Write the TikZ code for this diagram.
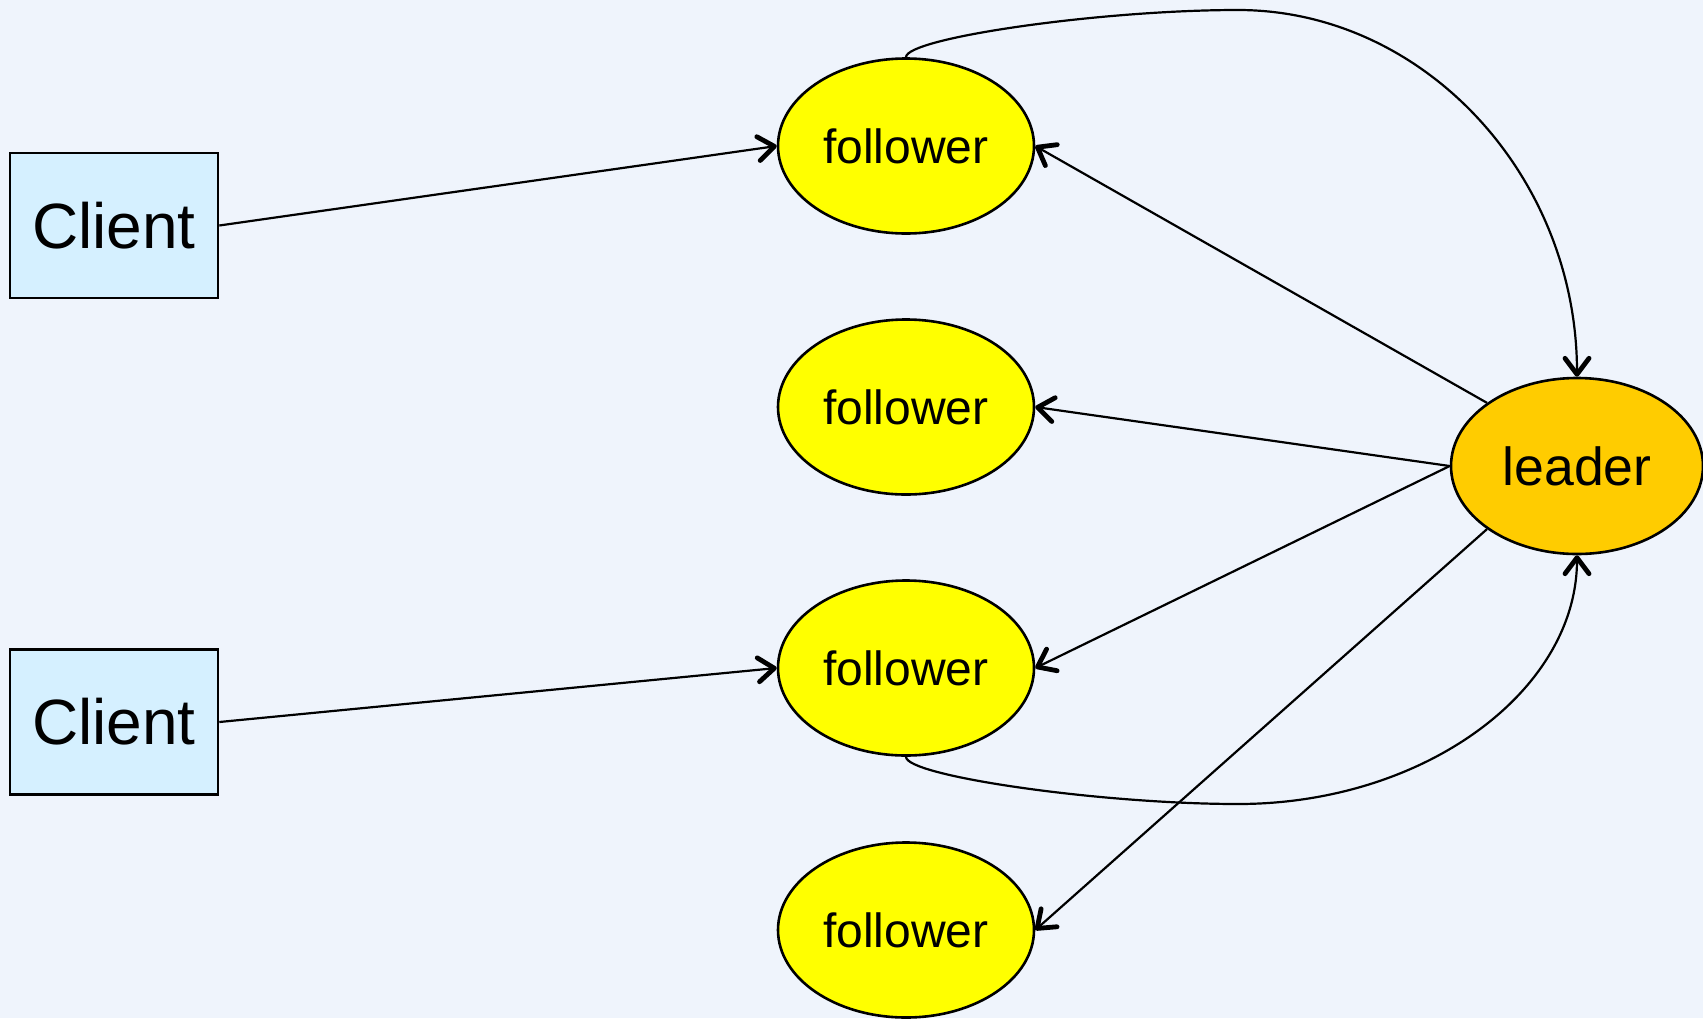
\documentclass[tikz,border=0pt]{standalone}
\usepackage{fontspec}
\setmainfont{Liberation Sans}
\usepackage{xcolor}
\usepackage{tikz}
\usetikzlibrary{positioning,arrows.meta,shapes.geometric}

\definecolor{bgblue}{HTML}{EFF4FC}
\definecolor{clientblue}{HTML}{D5F0FF}
\definecolor{followeryellow}{HTML}{FFFF00}
\definecolor{leaderorange}{HTML}{FFCC00}

\begin{document}
\begin{tikzpicture}[x=0.5pt, y=-0.5pt,
        client/.style={rectangle, draw=black, line width=1.3pt, fill=clientblue, minimum width=104pt, minimum height=72.5pt, inner sep=0pt, font=\fontsize{32}{36}\selectfont},
        follower/.style={ellipse, draw=black, line width=1.3pt, fill=followeryellow, minimum width=128pt, minimum height=87.5pt, inner sep=0pt, font=\fontsize{24}{28}\selectfont},
        leader/.style={ellipse, draw=black, line width=1.3pt, fill=leaderorange, minimum width=126pt, minimum height=88pt, inner sep=0pt, font=\fontsize{26.8}{30}\selectfont},
        link/.style={-{Straight Barb[length=8pt, width=12pt, line width=2.4pt, round]}, line width=1.1pt}
    ]
    % Background
    \useasboundingbox (0,0) rectangle (1703,1018);
    \fill[bgblue] (0,0) rectangle (1703,1018);

    % Clients
    \node[client] (c1) at (114,225.5) {Client};
    \node[client] (c2) at (114,722) {Client};

    % Followers
    \foreach \i/\y in {1/146, 2/407, 3/668, 4/930} {
        \node[follower] (f\i) at (906,\y) {follower};
    }

    % Leader
    \node[leader] (leader) at (1577,466) {leader};

    % Bend points
    \coordinate (topbend) at (1238,10);
    \coordinate (botbend) at (1238,804);

    % Requests
    \draw[link] (c1.east) -- (f1.west);
    \draw[link] (c2.east) -- (f3.west);

    % Replication
    \draw[link] (leader.north west) -- (f1.east);
    \draw[link] (leader.west) -- (f2.east);
    \draw[link] (leader.west) -- (f3.east);
    \draw[link] (leader.south west) -- (f4.east);

    % Forwarding
    \draw[link] (f1.north) .. controls (906,38) and (1100,10) .. (topbend)
        .. controls (1424,10) and (1577,176) .. (leader.north);
    \draw[link] (f3.south) .. controls (906,776) and (1100,804) .. (botbend)
        .. controls (1424,804) and (1577,691) .. (leader.south);
\end{tikzpicture}
\end{document}
